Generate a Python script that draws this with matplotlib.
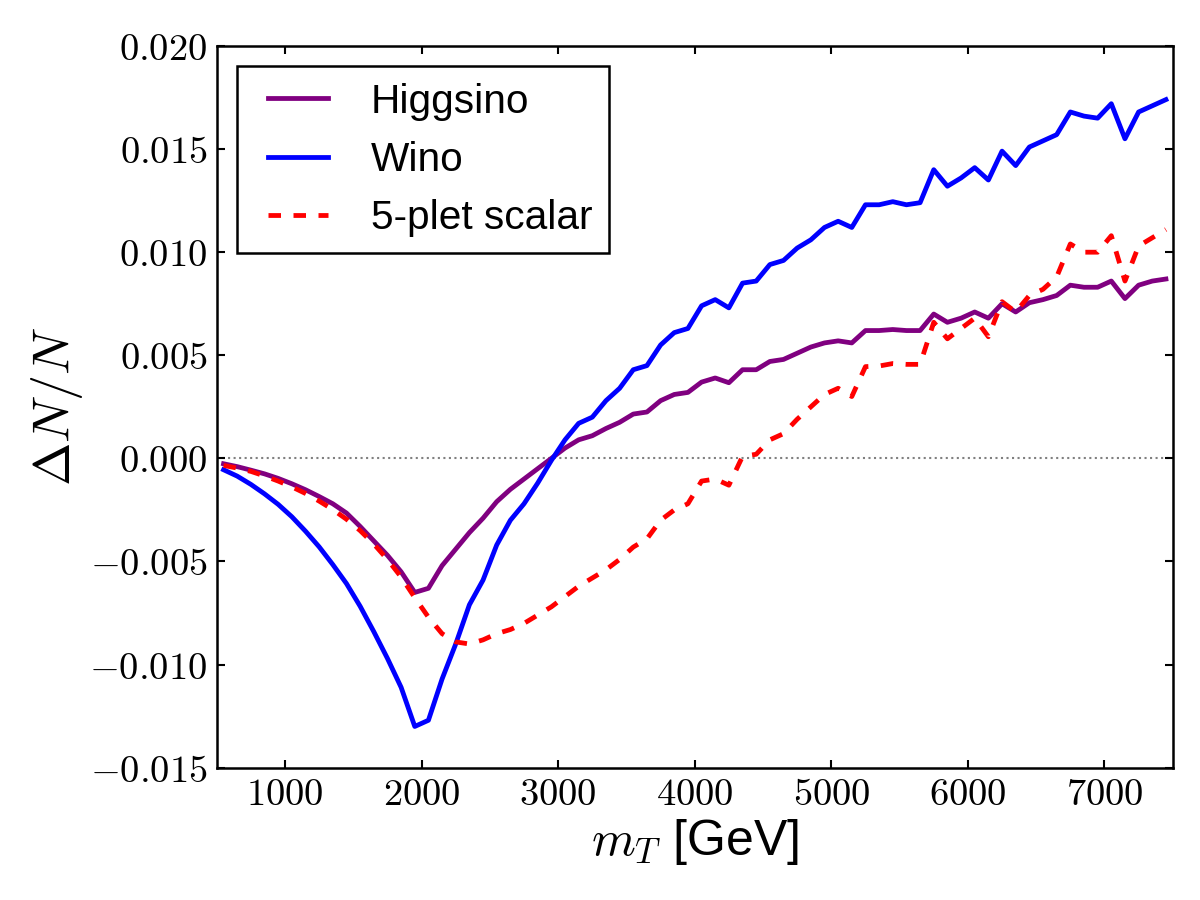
import numpy as np
import matplotlib
matplotlib.use('Agg')
import matplotlib.pyplot as plt
from matplotlib.ticker import FuncFormatter, MultipleLocator
from matplotlib.legend_handler import HandlerLine2D

plt.rcParams['font.family'] = ['Liberation Sans', 'DejaVu Sans']
plt.rcParams['mathtext.fontset'] = 'cm'
plt.rcParams['lines.scale_dashes'] = False

# bin centres of m_T [GeV]
m_T = [550, 650, 750, 850, 950, 1050, 1150, 1250, 1350, 1450,
       1550, 1650, 1750, 1850, 1950, 2050, 2150, 2250, 2350, 2450,
       2550, 2650, 2750, 2850, 2950, 3050, 3150, 3250, 3350, 3450,
       3550, 3650, 3750, 3850, 3950, 4050, 4150, 4250, 4350, 4450,
       4550, 4650, 4750, 4850, 4950, 5050, 5150, 5250, 5350, 5450,
       5550, 5650, 5750, 5850, 5950, 6050, 6150, 6250, 6350, 6450,
       6550, 6650, 6750, 6850, 6950, 7050, 7150, 7250, 7350, 7450]

higgsino = [-0.00026, -0.00040, -0.00057, -0.00075, -0.00097, -0.00123, -0.00152, -0.00185, -0.00220, -0.00265,
            -0.00330, -0.00400, -0.00470, -0.00550, -0.00650, -0.00630, -0.00520, -0.00440, -0.00360, -0.00290,
            -0.00210, -0.00150, -0.00100, -0.00050, 0.00000, 0.00050, 0.00090, 0.00110, 0.00145, 0.00175,
            0.00215, 0.00225, 0.00280, 0.00310, 0.00320, 0.00370, 0.00390, 0.00367, 0.00430, 0.00430,
            0.00470, 0.00480, 0.00510, 0.00540, 0.00560, 0.00570, 0.00560, 0.00620, 0.00620, 0.00625,
            0.00620, 0.00620, 0.00700, 0.00660, 0.00680, 0.00710, 0.00680, 0.00750, 0.00710, 0.00755,
            0.00770, 0.00790, 0.00840, 0.00830, 0.00830, 0.00860, 0.00775, 0.00840, 0.00860, 0.00870]

wino = [-0.00055, -0.00086, -0.00126, -0.00172, -0.00223, -0.00283, -0.00353, -0.00429, -0.00515, -0.00607,
        -0.00717, -0.00840, -0.00970, -0.01110, -0.01300, -0.01270, -0.01070, -0.00900, -0.00710, -0.00590,
        -0.00420, -0.00300, -0.00220, -0.00120, -0.00010, 0.00090, 0.00170, 0.00200, 0.00280, 0.00340,
        0.00430, 0.00450, 0.00550, 0.00610, 0.00630, 0.00740, 0.00770, 0.00730, 0.00850, 0.00860,
        0.00940, 0.00960, 0.01020, 0.01060, 0.01120, 0.01150, 0.01120, 0.01230, 0.01230, 0.01245,
        0.01230, 0.01240, 0.01400, 0.01320, 0.01360, 0.01410, 0.01350, 0.01490, 0.01420, 0.01510,
        0.01540, 0.01570, 0.01680, 0.01660, 0.01650, 0.01720, 0.01550, 0.01680, 0.01710, 0.01740]

scalar5 = [-0.00034, -0.00047, -0.00063, -0.00085, -0.00110, -0.00138, -0.00170, -0.00207, -0.00248, -0.00295,
           -0.00350, -0.00415, -0.00490, -0.00575, -0.00675, -0.00770, -0.00850, -0.00890, -0.00900, -0.00880,
           -0.00850, -0.00830, -0.00800, -0.00760, -0.00720, -0.00670, -0.00620, -0.00580, -0.00540, -0.00490,
           -0.00430, -0.00390, -0.00300, -0.00250, -0.00220, -0.00110, -0.00100, -0.00130, 0.00010, 0.00020,
           0.00090, 0.00120, 0.00190, 0.00250, 0.00310, 0.00340, 0.00300, 0.00445, 0.00448, 0.00460,
           0.00456, 0.00456, 0.00660, 0.00580, 0.00630, 0.00680, 0.00590, 0.00760, 0.00710, 0.00790,
           0.00820, 0.00880, 0.01040, 0.01000, 0.01000, 0.01080, 0.00860, 0.01030, 0.01070, 0.01110]

fig = plt.figure(figsize=(8, 6), dpi=150)
ax = fig.add_axes([0.1806, 0.147, 0.7967, 0.8019])

ax.axhline(0, color='grey', linestyle=':', linewidth=1.0, zorder=1)
ax.plot(m_T, higgsino, color='purple', linewidth=2.3, label='Higgsino')
ax.plot(m_T, wino, color='blue', linewidth=2.3, label='Wino')
ax.plot(m_T, scalar5, color='red', linewidth=2.3, linestyle='--', dashes=(6, 6), label='5-plet scalar')

ax.set_xlim(500, 7500)
ax.set_ylim(-0.015, 0.020)
ax.xaxis.set_major_locator(MultipleLocator(1000))
ax.yaxis.set_major_locator(MultipleLocator(0.005))
ax.xaxis.set_major_formatter(FuncFormatter(lambda v, p: r'$%d$' % v))
ax.yaxis.set_major_formatter(FuncFormatter(lambda v, p: r'$%.3f$' % v if abs(v) > 1e-9 else r'$0.000$'))

ax.tick_params(direction='in', top=True, right=True, length=4, width=1, labelsize=18.5, pad=4.5)
for sp in ax.spines.values():
    sp.set_linewidth(1.2)

ax.set_xlabel(r'$m_T$ [GeV]', fontsize=24, labelpad=2)
ax.set_ylabel(r'$\Delta N/N$', fontsize=25, labelpad=2)

leg = ax.legend(loc='upper left', fontsize=19.5, fancybox=False, framealpha=1,
                edgecolor='black', handlelength=1.85, handletextpad=1.05,
                labelspacing=0.5, borderaxespad=0.5, borderpad=0.4,
                handler_map={matplotlib.lines.Line2D: HandlerLine2D(xpad=0.35)})
leg.get_frame().set_linewidth(1.2)

fig.savefig('out.png', dpi=150)
